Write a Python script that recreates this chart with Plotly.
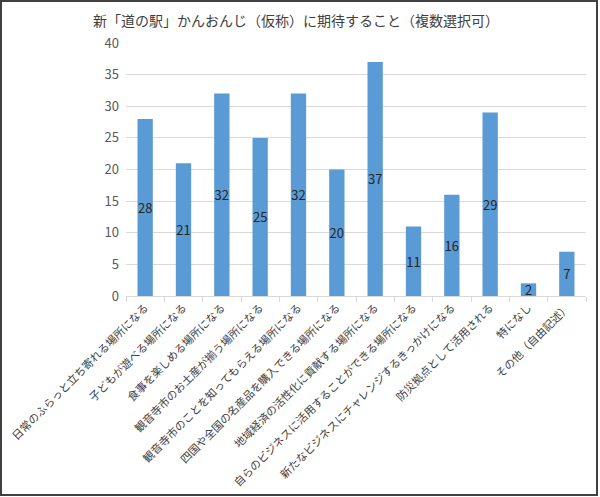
import plotly.graph_objects as go

categories = [
    "日常のふらっと立ち寄れる場所になる",
    "子どもが遊べる場所になる",
    "食事を楽しめる場所になる",
    "観音寺市のお土産が揃う場所になる",
    "観音寺市のことを知ってもらえる場所になる",
    "四国や全国の名産品を購入できる場所になる",
    "地域経済の活性化に貢献する場所になる",
    "自らのビジネスに活用することができる場所になる",
    "新たなビジネスにチャレンジするきっかけになる",
    "防災拠点として活用される",
    "特になし",
    "その他（自由記述）",
]
values = [28, 21, 32, 25, 32, 20, 37, 11, 16, 29, 2, 7]
y_ticks = [0, 5, 10, 15, 20, 25, 30, 35, 40]
title_text = "新「道の駅」かんおんじ（仮称）に期待すること（複数選択可）"

FONT = "Noto Sans CJK JP"
W, H = 600, 497
L, R, T, B = 126, 14, 43, 201
pw, ph = W - L - R, H - T - B

fig = go.Figure(go.Bar(
    x=categories,
    y=values,
    marker=dict(color="#5B9BD5", line=dict(width=0)),
    text=[str(v) for v in values],
    textposition="inside",
    insidetextanchor="middle",
    textangle=0,
    constraintext="none",
    textfont=dict(family=FONT, size=13, color="#262626"),
    cliponaxis=False,
))

def px_x(p):
    return (p - L) / pw

def px_y(p):
    return (H - B - p) / ph

fig.add_shape(type="rect", xref="paper", yref="paper",
              x0=px_x(1), x1=px_x(597), y0=px_y(495), y1=px_y(1),
              line=dict(color="#404040", width=2), fillcolor="rgba(0,0,0,0)",
              layer="above")

fig.update_layout(
    width=W, height=H,
    margin=dict(l=L, r=R, t=T, b=B, pad=0, autoexpand=False),
    paper_bgcolor="white", plot_bgcolor="white",
    bargap=0.6,
    showlegend=False,
    title=dict(text=title_text, xref="container", x=296 / W, xanchor="center",
               yref="container", y=1 - 21 / H, yanchor="middle",
               font=dict(family=FONT, size=14, color="#404040")),
    xaxis=dict(
        automargin=False,
        tickangle=-45,
        tickfont=dict(family=FONT, size=11, color="#404040"),
        showline=True, linecolor="#D9D9D9", linewidth=1,
        ticks="outside", tickson="boundaries", ticklen=5, tickcolor="#D9D9D9",
        showgrid=False,
    ),
    yaxis=dict(
        automargin=False,
        range=[0, 40],
        tickvals=y_ticks,
        tickfont=dict(family=FONT, size=13, color="#595959"),
        showgrid=True, gridcolor="#D9D9D9", gridwidth=1,
        zeroline=False, showline=False, ticks="",
        ticklabelstandoff=6,
    ),
)

fig.write_html(
    "out.html",
    config={"displayModeBar": False},
    post_script="document.body.style.margin='0';document.body.style.padding='0';document.body.style.overflow='hidden';",
)
